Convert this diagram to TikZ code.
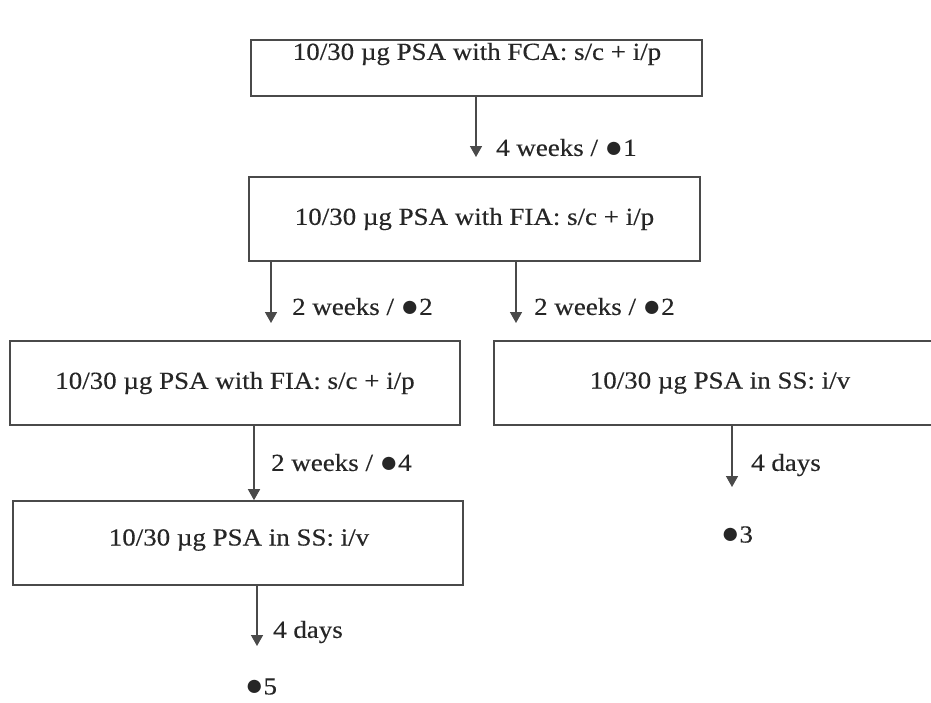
\documentclass[tikz,border=0pt]{standalone}
\usepackage{fontspec}
\setmainfont{Liberation Serif}[FakeStretch=1.10,FakeBold=0.3]
\newfontfamily\bulfont{Liberation Serif}[Scale=1.25]
\newcommand\mybul{{\bulfont\raisebox{-1.2pt}{●}}}
\usetikzlibrary{arrows.meta}
\definecolor{linec}{HTML}{4A4A4A}
\definecolor{textc}{HTML}{262626}
\begin{document}
\begin{tikzpicture}[x=1pt,y=-1pt,
  every node/.style={text=textc, font=\fontsize{24.5}{28}\selectfont, inner sep=0pt},
  boxnode/.style={draw=linec, line width=1.6pt, rectangle, minimum width=451pt},
  arr/.style={draw=linec, line width=1.5pt, -{Triangle[width=12pt,length=11pt]}},
  lbl/.style={anchor=west}]
\path[clip,use as bounding box] (0,0) rectangle (931,702);
\fill[white] (0,0) rectangle (931,702);
% boxes
\node[boxnode, minimum height=56pt] (b1) at (476.5,68) {};
\node (t1) at (477,54) {10/30 µg PSA with FCA: s/c + i/p};
\node[boxnode, minimum height=84pt] (b2) at (474.5,219) {10/30 µg PSA with FIA: s/c + i/p};
\node[boxnode, minimum width=450pt, minimum height=84pt] (b3) at (235,383) {10/30 µg PSA with FIA: s/c + i/p};
\node[boxnode, minimum width=452pt, minimum height=84pt] (b4) at (720,383) {10/30 µg PSA in SS: i/v};
\node[boxnode, minimum width=450pt, minimum height=84pt] (b5) at (238,543) {};
\node (t5) at (239,540) {10/30 µg PSA in SS: i/v};
% end points
\coordinate (e1) at (476,157);
\coordinate (e2L) at (271,323);
\coordinate (e2R) at (516,323);
\coordinate (e3) at (254,486);
\coordinate (e4) at (732,487);
\coordinate (e5) at (257,646);
% arrows
\draw[arr] (b1.south -| e1) -- (e1);
\draw[arr] (b2.south -| e2L) -- (e2L);
\draw[arr] (b2.south -| e2R) -- (e2R);
\draw[arr] (b3.south -| e3) -- (b5.north -| e3);
\draw[arr] (b4.south -| e4) -- (e4);
\draw[arr] (b5.south -| e5) -- (e5);
% labels
\node[lbl] (l1) at (496,148) {4 weeks / \mybul1};
\node[lbl] (l2L) at (292,307) {2 weeks / \mybul2};
\node[lbl] (l2R) at (534,307) {2 weeks / \mybul2};
\node[lbl] (l3) at (271,463) {2 weeks / \mybul4};
\node[lbl] (l4) at (751,465) {4 days};
\node[lbl] (l5) at (273,632) {4 days};
\node (d3) at (737,535) {\mybul3};
\node (d5) at (261,687) {\mybul5};
\end{tikzpicture}
\end{document}
